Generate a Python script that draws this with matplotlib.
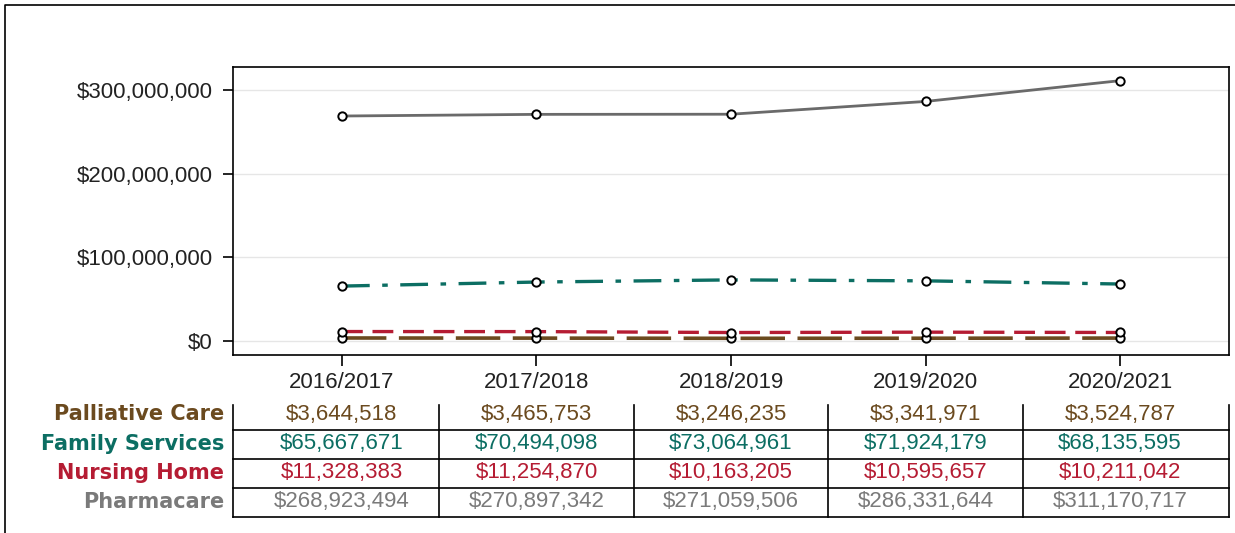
import matplotlib
matplotlib.use("Agg")
import matplotlib.pyplot as plt
from matplotlib.lines import Line2D
from matplotlib.ticker import FuncFormatter

plt.rcParams['lines.scale_dashes'] = False

# Yearly spending per program
years = ["2016/2017", "2017/2018", "2018/2019", "2019/2020", "2020/2021"]
palliative = [3644518, 3465753, 3246235, 3341971, 3524787]
family = [65667671, 70494098, 73064961, 71924179, 68135595]
nursing = [11328383, 11254870, 10163205, 10595657, 10211042]
pharmacare = [268923494, 270897342, 271059506, 286331644, 311170717]

names = ["Palliative Care", "Family Services", "Nursing Home", "Pharmacare"]
colors = ["#6b4a1f", "#0c6e63", "#b51c33", "#7a7a7a"]
line_colors = ["#6b4a1f", "#0c6e63", "#b51c33", "#6a6a6a"]
styles = [(0, (32, 9)), (0, (20, 9, 4, 9)), (0, (15, 7)), "-"]
widths = [2.6, 2.4, 2.4, 2.0]
series = [palliative, family, nursing, pharmacare]

W, H = 1235, 533
fig = plt.figure(figsize=(W / 100, H / 100), dpi=100)

# frame around the whole figure (left and top edges)
fig.add_artist(Line2D([5 / W, 5 / W, 1.0], [0.0, 1 - 5 / H, 1 - 5 / H],
                      transform=fig.transFigure, color="black", lw=1.2))

x = list(range(len(years)))
xlim = (-0.56, len(years) - 1 + 0.56)

ax = fig.add_axes([233 / W, (H - 355) / H, 996 / W, 288 / H])
for vals, c, ls, lw in zip(reversed(series), reversed(line_colors), reversed(styles), reversed(widths)):
    ax.plot(x, vals, color=c, linestyle=ls, lw=lw, zorder=2)
for vals in series:
    ax.plot(x, vals, linestyle="none", marker="o", ms=6, mfc="white",
            mec="black", mew=1.4, zorder=3)

ax.set_xlim(*xlim)
ax.set_ylim(-16.7e6, 327.5e6)
ax.set_yticks([0, 100e6, 200e6, 300e6])
ax.yaxis.set_major_formatter(FuncFormatter(lambda v, p: f"${v:,.0f}"))
ax.set_xticks(x)
ax.set_xticklabels(years)
ax.grid(axis="y", color="#e6e6e6", lw=1)
ax.set_axisbelow(True)
for s in ax.spines.values():
    s.set_linewidth(1.2)
ax.tick_params(axis="y", length=7.5, width=1.2, pad=7, labelsize=16, labelcolor="#222222")
ax.tick_params(axis="x", length=8, width=1.2, pad=4, labelsize=16, labelcolor="#222222")
for lab in ax.get_xticklabels() + ax.get_yticklabels():
    lab.set_fontfamily("Liberation Sans")

# value table under the chart
tax = fig.add_axes([233 / W, (H - 517) / H, 996 / W, 116 / H])
tax.set_xlim(*xlim)
tax.set_ylim(4, 0)
tax.axis("off")
for r in [1, 2, 3, 4]:
    tax.plot(xlim, [r, r], color="black", lw=1.2, clip_on=False)
for b in [xlim[0]] + [i + 0.5 for i in x[:-1]] + [xlim[1]]:
    tax.plot([b, b], [0.13, 4], color="black", lw=1.2, clip_on=False)

for r, (name, vals, c) in enumerate(zip(names, series, colors)):
    yc = r + 0.45 if r == 0 else r + 0.47
    for i, v in enumerate(vals):
        tax.text(i, yc, f"${v:,.0f}", color=c, ha="center", va="center",
                 fontsize=16, family="Liberation Sans")
    tax.text(-0.605, yc, name, color=c, ha="right", va="center",
             fontsize=15, fontweight="bold", family="DejaVu Sans")

fig.savefig("out.png", dpi=100)
